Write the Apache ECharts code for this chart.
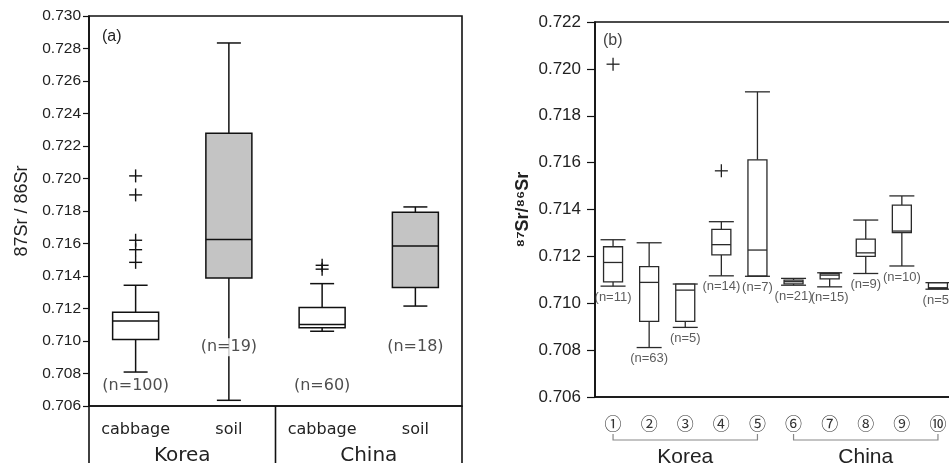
<!DOCTYPE html>
<html>
<head>
<meta charset="utf-8">
<script src="https://cdn.jsdelivr.net/npm/echarts@6/dist/echarts.min.js"></script>
<style>
  html, body { margin: 0; padding: 0; background: #fff; overflow: hidden; }
  #chart { width: 964px; height: 463px; }
</style>
</head>
<body>
<div id="chart"></div>
<script>
// ---- Panel (a): sample type by country ----
const catsA = ['cabbage', 'soil', 'cabbage', 'soil'];
const groupNamesA = ['Korea', 'China'];
const groupSpanA = [[0, 1], [2, 3]];
// [lower whisker, Q1, median, Q3, upper whisker]
const boxA = [
  [0.70809, 0.71010, 0.71123, 0.71177, 0.71343],
  [0.70635, 0.71388, 0.71624, 0.72278, 0.72834],
  [0.71060, 0.71081, 0.71102, 0.71206, 0.71353],
  [0.71215, 0.71330, 0.71585, 0.71792, 0.71825]
];
// [category index, value]
const outliersA = [
  [0, 0.72016], [0, 0.71899], [0, 0.71620], [0, 0.71562], [0, 0.71484],
  [2, 0.71466], [2, 0.71442]
];
const countsA = [100, 19, 60, 18];
const yMinA = 0.706, yMaxA = 0.730, yStepA = 0.002;

// ---- Panel (b): sampling regions ----
const catsB = ['①', '②', '③', '④', '⑤', '⑥', '⑦', '⑧', '⑨', '⑩'];
const groupNamesB = ['Korea', 'China'];
const groupSpanB = [[0, 4], [5, 9]];
const boxB = [
  [0.71073, 0.71091, 0.71174, 0.71241, 0.71271],
  [0.70811, 0.70923, 0.71089, 0.71156, 0.71258],
  [0.70897, 0.70923, 0.71056, 0.71082, 0.71082],
  [0.71117, 0.71206, 0.71250, 0.71315, 0.71348],
  [0.71115, 0.71117, 0.71227, 0.71612, 0.71902],
  [0.71077, 0.71083, 0.71092, 0.71099, 0.71106],
  [0.71070, 0.71104, 0.71120, 0.71127, 0.71130],
  [0.71127, 0.71200, 0.71215, 0.71274, 0.71355],
  [0.71159, 0.71301, 0.71308, 0.71419, 0.71458],
  [0.71060, 0.71063, 0.71066, 0.71087, 0.71088]
];
const outliersB = [[0, 0.72020], [3, 0.71565]];
const countsB = [11, 63, 5, 14, 7, 21, 15, 9, 10, 5];
const yMinB = 0.706, yMaxB = 0.722, yStepB = 0.002;

// ---- drawing helpers ----
const ARIAL = '"Liberation Sans", Arial, sans-serif';
const WIDE = '"DejaVu Sans", sans-serif';

function boxRenderer(o) {
  return function (params, api) {
    const i = api.value(0);
    const pt = k => api.coord([i, api.value(k)]);
    const [cx, yLo] = pt(1);
    const yQ1 = pt(2)[1], yMed = pt(3)[1], yQ3 = pt(4)[1], yHi = pt(5)[1];
    const hb = o.box / 2, hc = o.cap / 2;
    const ls = { stroke: o.stroke, lineWidth: o.lw, fill: null };
    return {
      type: 'group',
      children: [
        { type: 'line', shape: { x1: cx, y1: yHi, x2: cx, y2: yQ3 }, style: ls },
        { type: 'line', shape: { x1: cx, y1: yQ1, x2: cx, y2: yLo }, style: ls },
        { type: 'line', shape: { x1: cx - hc, y1: yHi, x2: cx + hc, y2: yHi }, style: ls },
        { type: 'line', shape: { x1: cx - hc, y1: yLo, x2: cx + hc, y2: yLo }, style: ls },
        { type: 'rect', shape: { x: cx - hb, y: yQ3, width: o.box, height: yQ1 - yQ3 },
          style: { fill: o.fill(i), stroke: o.stroke, lineWidth: o.lw } },
        { type: 'line', shape: { x1: cx - hb, y1: yMed, x2: cx + hb, y2: yMed },
          style: { stroke: o.stroke, lineWidth: o.medLw } }
      ]
    };
  };
}

function plusRenderer(size, stroke, lw) {
  return function (params, api) {
    const [x, y] = api.coord([api.value(0), api.value(1)]);
    const h = size / 2;
    const st = { stroke: stroke, lineWidth: lw };
    return {
      type: 'group',
      children: [
        { type: 'line', shape: { x1: x - h, y1: y, x2: x + h, y2: y }, style: st },
        { type: 'line', shape: { x1: x, y1: y - h, x2: x, y2: y + h }, style: st }
      ]
    };
  };
}

// Two rows used for the sample-size captions in panel (a)
const countRowA = [0.70727, 0.70961, 0.70727, 0.70961];

const chart = echarts.init(document.getElementById('chart'), null, { renderer: 'canvas' });

const option = {
  animation: false,
  backgroundColor: '#fff',
  grid: [
    { left: 89, top: 16, width: 373, height: 390, show: true,
      borderColor: '#111', borderWidth: 1.6, backgroundColor: 'transparent' },
    { left: 595, top: 22, width: 361, height: 375, show: true,
      borderColor: '#111', borderWidth: 1.6, backgroundColor: 'transparent' }
  ],
  xAxis: [
    {
      type: 'category', gridIndex: 0, data: catsA, boundaryGap: true,
      axisLine: { lineStyle: { color: '#111', width: 1.6 } },
      axisTick: { alignWithLabel: true, length: 10, lineStyle: { color: '#111', width: 1.4 } },
      axisLabel: { color: '#222', fontFamily: WIDE, fontSize: 16, margin: 16 },
      splitLine: { show: false }
    },
    {
      type: 'category', gridIndex: 1, data: catsB, boundaryGap: true,
      axisLine: { lineStyle: { color: '#111', width: 1.6 } },
      axisTick: { alignWithLabel: true, length: 8, lineStyle: { color: '#111', width: 1.4 } },
      axisLabel: { color: '#333', fontFamily: '"Noto Sans CJK SC", sans-serif', fontSize: 17, margin: 18 },
      splitLine: { show: false }
    }
  ],
  yAxis: [
    {
      type: 'value', gridIndex: 0, min: yMinA, max: yMaxA, interval: yStepA,
      name: '87Sr / 86Sr', nameLocation: 'middle', nameGap: 58,
      nameTextStyle: { color: '#222', fontFamily: ARIAL, fontSize: 18 },
      axisLine: { show: true, lineStyle: { color: '#111', width: 1.6 } },
      axisTick: { show: true, length: 6, lineStyle: { color: '#111', width: 1.2 } },
      axisLabel: { color: '#222', fontFamily: ARIAL, fontSize: 15.5, margin: 8,
        formatter: v => v.toFixed(3) },
      splitLine: { show: false }
    },
    {
      type: 'value', gridIndex: 1, min: yMinB, max: yMaxB, interval: yStepB,
      name: '⁸⁷Sr/⁸⁶Sr', nameLocation: 'middle', nameGap: 63,
      nameTextStyle: { color: '#222', fontFamily: ARIAL, fontSize: 18, fontWeight: 'bold' },
      axisLine: { show: true, lineStyle: { color: '#111', width: 1.6 } },
      axisTick: { show: true, length: 8, lineStyle: { color: '#111', width: 1.2 } },
      axisLabel: { color: '#222', fontFamily: ARIAL, fontSize: 17, margin: 14,
        formatter: v => v.toFixed(3) },
      splitLine: { show: false }
    }
  ],
  series: [
    {
      type: 'custom', xAxisIndex: 0, yAxisIndex: 0, z: 2,
      renderItem: boxRenderer({ box: 46, cap: 24, stroke: '#111', lw: 1.5, medLw: 1.5,
        fill: i => (catsA[i] === 'soil' ? '#c4c4c4' : '#fff') }),
      encode: { x: 0, y: [1, 2, 3, 4, 5] },
      data: boxA.map((b, i) => [i].concat(b))
    },
    {
      type: 'custom', xAxisIndex: 0, yAxisIndex: 0, z: 2,
      renderItem: plusRenderer(13, '#111', 1.4),
      encode: { x: 0, y: 1 },
      data: outliersA
    },
    {
      type: 'scatter', xAxisIndex: 0, yAxisIndex: 0, z: 5,
      symbolSize: 1, itemStyle: { color: 'transparent' }, silent: true,
      data: countRowA.map((v, i) => [i, v]),
      label: {
        show: true, position: 'inside', color: '#222', fontFamily: WIDE, fontSize: 16,
        backgroundColor: '#fff', padding: [1, 1],
        formatter: p => '(n=' + countsA[p.dataIndex] + ')'
      }
    },
    {
      type: 'custom', xAxisIndex: 1, yAxisIndex: 1, z: 2,
      renderItem: boxRenderer({ box: 19, cap: 25, stroke: '#2a2a2a', lw: 1.3, medLw: 1.3,
        fill: () => '#fff' }),
      encode: { x: 0, y: [1, 2, 3, 4, 5] },
      data: boxB.map((b, i) => [i].concat(b))
    },
    {
      type: 'custom', xAxisIndex: 1, yAxisIndex: 1, z: 2,
      renderItem: plusRenderer(13, '#222', 1.3),
      encode: { x: 0, y: 1 },
      data: outliersB
    },
    {
      type: 'scatter', xAxisIndex: 1, yAxisIndex: 1, z: 5,
      symbolSize: 1, itemStyle: { color: 'transparent' }, silent: true,
      data: boxB.map((b, i) => [i, b[0]]),
      label: {
        show: true, position: 'bottom', distance: 4, color: '#333', fontFamily: ARIAL, fontSize: 13,
        formatter: p => '(n=' + countsB[p.dataIndex] + ')'
      }
    }
  ]
};

chart.setOption(option);

// ---- group captions, dividers and brackets below the category axes ----
const xPx = (ax, i) => chart.convertToPixel({ xAxisIndex: ax }, i);
const yPx = (ax, v) => chart.convertToPixel({ yAxisIndex: ax }, v);
const graphics = [];

// panel (a): dividers between country groups
const bandA = xPx(0, 1) - xPx(0, 0);
const baseA = yPx(0, yMinA);
const edgesA = [xPx(0, 0) - bandA / 2]
  .concat(groupSpanA.map(s => xPx(0, s[1]) + bandA / 2));
edgesA.forEach(x => {
  graphics.push({ type: 'line', shape: { x1: x, y1: baseA, x2: x, y2: 470 },
    style: { stroke: '#111', lineWidth: 1.6 }, z: 10 });
});
groupSpanA.forEach((s, g) => {
  graphics.push({ type: 'text', z: 10,
    style: { text: groupNamesA[g], x: (xPx(0, s[0]) + xPx(0, s[1])) / 2, y: 446,
      align: 'center', verticalAlign: 'top', fill: '#222', font: '20px ' + WIDE } });
});
graphics.push({ type: 'text', z: 10,
  style: { text: '(a)', x: xPx(0, 0) - bandA / 2 + 13, y: 37, align: 'left', verticalAlign: 'middle',
    fill: '#222', font: '16px ' + ARIAL } });

// panel (b): brackets spanning each country's regions
groupSpanB.forEach((s, g) => {
  const x0 = xPx(1, s[0]), x1 = xPx(1, s[1]);
  graphics.push({ type: 'polyline', z: 10,
    shape: { points: [[x0, 434], [x0, 440], [x1, 440], [x1, 434]] },
    style: { stroke: '#888', lineWidth: 1.2, fill: null } });
  graphics.push({ type: 'text', z: 10,
    style: { text: groupNamesB[g], x: (x0 + x1) / 2, y: 447,
      align: 'center', verticalAlign: 'top', fill: '#222', font: '21px ' + ARIAL } });
});
graphics.push({ type: 'text', z: 10,
  style: { text: '(b)', x: xPx(1, 0) - (xPx(1, 1) - xPx(1, 0)) / 2 + 8, y: 41, align: 'left',
    verticalAlign: 'middle', fill: '#444', font: '16px ' + ARIAL } });

chart.setOption({ graphic: graphics });
</script>
</body>
</html>
